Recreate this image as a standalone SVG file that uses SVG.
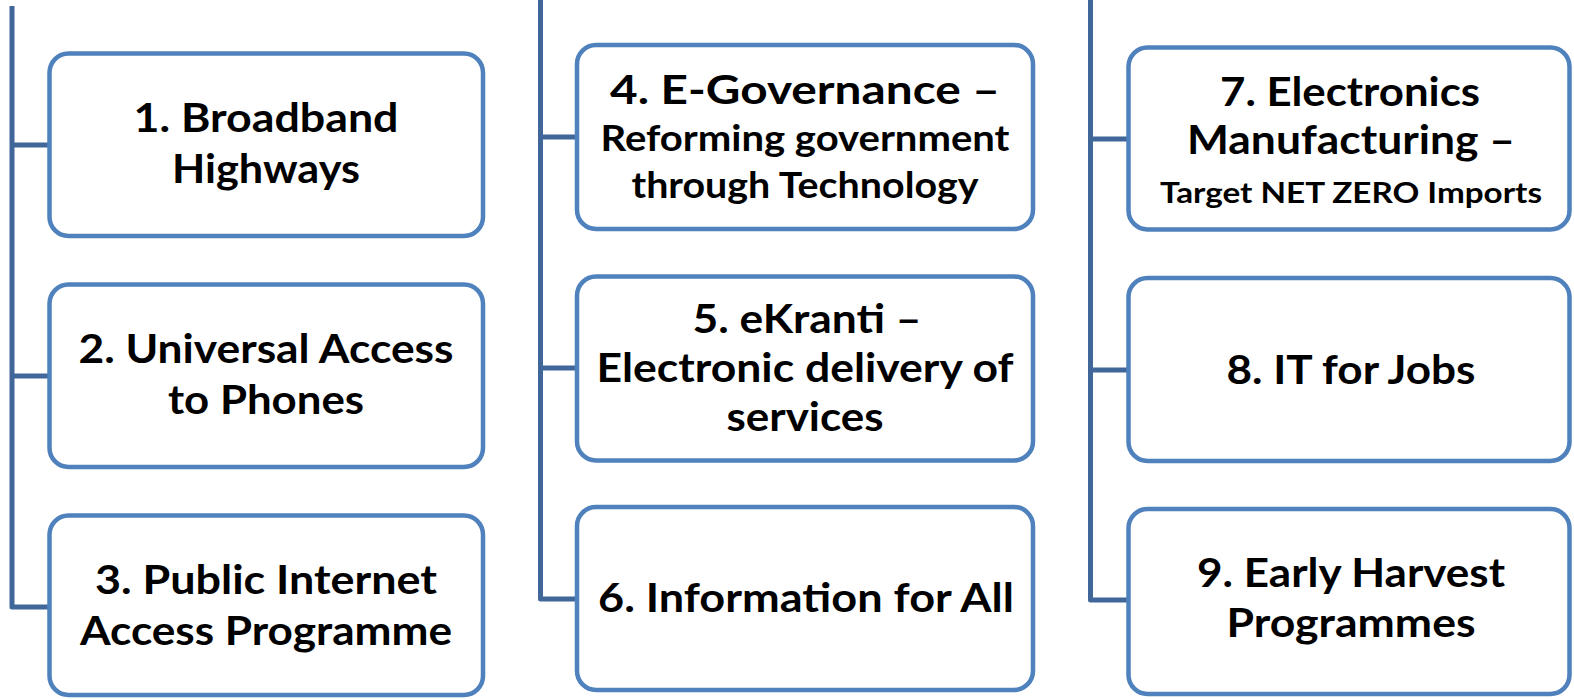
<svg xmlns="http://www.w3.org/2000/svg" width="1574" height="699" viewBox="0 0 1574 699">
<style>
.box{fill:#ffffff;stroke:#4F81BD;stroke-width:4.5}
.conn{fill:none;stroke:#41679A;stroke-width:5;stroke-linejoin:round}
text{font-family:Lato,"Open Sans","Liberation Sans",sans-serif;font-weight:bold;fill:#000;text-anchor:middle}
.b{font-size:41px}
.s{font-size:36px}
.xs{font-size:29px}
</style>
<rect width="1574" height="699" fill="#ffffff"/>
<g id="connectors">
<path class="conn" d="M12 6 V607 H50 M12 145 H50 M12 376 H50"/>
<path class="conn" d="M540.5 0 V599 H577 M540.5 137 H577 M540.5 368 H577"/>
<path class="conn" d="M1090.5 0 V600 H1128 M1090.5 139 H1128 M1090.5 370 H1128"/>
</g>
<g id="node1">
<rect class="box" x="49.5" y="53.5" width="433.5" height="182.5" rx="19"/>
<text class="b" x="266" y="132" textLength="265" lengthAdjust="spacingAndGlyphs">1. Broadband</text>
<text class="b" x="266" y="183" textLength="188" lengthAdjust="spacingAndGlyphs">Highways</text>
</g>
<g id="node2">
<rect class="box" x="49.5" y="284.5" width="433.5" height="182.5" rx="19"/>
<text class="b" x="266" y="363" textLength="375" lengthAdjust="spacingAndGlyphs">2. Universal Access</text>
<text class="b" x="266" y="414" textLength="196" lengthAdjust="spacingAndGlyphs">to Phones</text>
</g>
<g id="node3">
<rect class="box" x="49.5" y="515.5" width="433.5" height="179.5" rx="19"/>
<text class="b" x="266" y="594" textLength="342" lengthAdjust="spacingAndGlyphs">3. Public Internet</text>
<text class="b" x="266" y="645" textLength="372" lengthAdjust="spacingAndGlyphs">Access Programme</text>
</g>
<g id="node4">
<rect class="box" x="577" y="45" width="456" height="184" rx="19"/>
<text class="b" x="805" y="104" textLength="390" lengthAdjust="spacingAndGlyphs">4. E-Governance –</text>
<text class="s" x="805" y="151" textLength="409" lengthAdjust="spacingAndGlyphs">Reforming government</text>
<text class="s" x="805" y="198" textLength="347" lengthAdjust="spacingAndGlyphs">through Technology</text>
</g>
<g id="node5">
<rect class="box" x="577" y="276.5" width="456" height="184" rx="19"/>
<text class="b" x="807" y="333" textLength="229" lengthAdjust="spacingAndGlyphs">5. eKranti –</text>
<text class="b" x="805" y="382" textLength="417" lengthAdjust="spacingAndGlyphs">Electronic delivery of</text>
<text class="b" x="805" y="431" textLength="157" lengthAdjust="spacingAndGlyphs">services</text>
</g>
<g id="node6">
<rect class="box" x="577" y="507" width="456" height="183" rx="19"/>
<text class="b" x="806" y="612" textLength="416" lengthAdjust="spacingAndGlyphs">6. Information for All</text>
</g>
<g id="node7">
<rect class="box" x="1128.5" y="47.5" width="441" height="182" rx="19"/>
<text class="b" x="1350" y="106" textLength="260" lengthAdjust="spacingAndGlyphs">7. Electronics</text>
<text class="b" x="1351" y="154" textLength="328" lengthAdjust="spacingAndGlyphs">Manufacturing –</text>
<text class="xs" x="1351" y="203" textLength="382" lengthAdjust="spacingAndGlyphs">Target NET ZERO Imports</text>
</g>
<g id="node8">
<rect class="box" x="1128.5" y="278" width="441" height="183" rx="19"/>
<text class="b" x="1351" y="384" textLength="249" lengthAdjust="spacingAndGlyphs">8. IT for Jobs</text>
</g>
<g id="node9">
<rect class="box" x="1128.5" y="509" width="441" height="185" rx="19"/>
<text class="b" x="1351" y="587" textLength="308" lengthAdjust="spacingAndGlyphs">9. Early Harvest</text>
<text class="b" x="1351" y="637" textLength="249" lengthAdjust="spacingAndGlyphs">Programmes</text>
</g>
</svg>
